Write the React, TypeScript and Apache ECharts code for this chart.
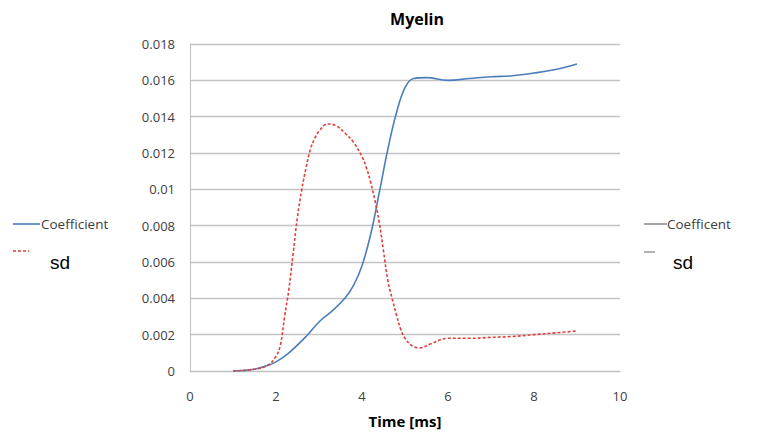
import React, { useEffect, useRef } from "react";
import * as echarts from "echarts";

const coefX = [1.0, 1.5, 1.8, 2.0, 2.3, 2.7, 3.0, 3.3, 3.6, 3.8, 4.0, 4.2, 4.4, 4.6, 4.8, 5.0, 5.2, 5.5, 6.0, 6.5, 7.0, 7.5, 8.0, 8.5, 9.0];
const coefY = [0.0, 0.0001, 0.0003, 0.0005, 0.001, 0.0019, 0.0027, 0.0033, 0.004, 0.0047, 0.0058, 0.0075, 0.0098, 0.0122, 0.0142, 0.0156, 0.0161, 0.01615, 0.016, 0.0161, 0.0162, 0.01625, 0.0164, 0.0166, 0.0169];

const sdX = [1.0, 1.5, 1.8, 2.0, 2.1, 2.2, 2.3, 2.4, 2.5, 2.6, 2.7, 2.8, 2.9, 3.0, 3.2, 3.4, 3.6, 3.8, 4.0, 4.1, 4.2, 4.3, 4.4, 4.5, 4.6, 4.7, 4.8, 4.9, 5.0, 5.2, 5.35, 5.6, 6.0, 6.5, 7.0, 7.5, 8.0, 8.5, 9.0];
const sdY = [0.0, 0.0001, 0.0003, 0.0008, 0.0014, 0.003, 0.0045, 0.0065, 0.0085, 0.01, 0.0112, 0.0122, 0.0128, 0.0132, 0.0136, 0.0135, 0.0131, 0.0126, 0.0118, 0.0112, 0.0104, 0.0094, 0.0082, 0.0066, 0.005, 0.004, 0.0031, 0.0023, 0.0018, 0.00134, 0.00128, 0.0015, 0.0018, 0.0018, 0.00185, 0.0019, 0.002, 0.0021, 0.0022];

const titleText = "Myelin";
const xName = "Time [ms]";
const legendNames = ["Coefficient", "sd"];
const legendNamesRight = ["Coefficent", "sd"];

const BLUE = "#4a7ebb";
const RED = "#e0403a";
const FONT = "'Open Sans', 'Liberation Sans', sans-serif";

export default function App() {
  const ref = useRef<HTMLDivElement>(null);
  useEffect(() => {
    if (!ref.current) return;
    const chart = echarts.init(ref.current, null, { renderer: "svg" });
    const coefData = coefX.map((x, i) => [x, coefY[i]]);
    const sdData = sdX.map((x, i) => [x, sdY[i]]);
    chart.setOption({
      animation: false,
      backgroundColor: "#ffffff",
      title: {
        text: titleText,
        left: 412,
        textAlign: "center",
        top: 6,
        textStyle: { fontFamily: FONT, fontSize: 16, fontWeight: "bold", color: "#000" },
      },
      grid: { left: 190, right: 137, top: 44, bottom: 71 },
      xAxis: {
        type: "value",
        min: 0,
        max: 10,
        interval: 2,
        name: xName,
        nameLocation: "middle",
        nameGap: 42,
        nameTextStyle: { fontFamily: FONT, fontSize: 15, fontWeight: "bold", color: "#000" },
        axisLine: { show: true, lineStyle: { color: "#bfbfbf", width: 1 } },
        axisTick: { show: false },
        splitLine: { show: false },
        axisLabel: { fontFamily: FONT, fontSize: 13, color: "#404040", margin: 18 },
      },
      yAxis: {
        type: "value",
        min: 0,
        max: 0.018,
        interval: 0.002,
        axisLine: { show: true, lineStyle: { color: "#bfbfbf", width: 1 } },
        axisTick: { show: false },
        splitLine: { show: true, lineStyle: { color: "#c4c4c4", width: 1.3 } },
        axisLabel: { fontFamily: FONT, fontSize: 13, color: "#404040", margin: 15 },
      },
      series: [
        {
          name: legendNames[0],
          type: "line",
          data: coefData,
          smooth: 0.4,
          showSymbol: false,
          lineStyle: { color: BLUE, width: 1.6 },
          z: 3,
        },
        {
          name: legendNames[1],
          type: "line",
          data: sdData,
          smooth: 0.4,
          showSymbol: false,
          lineStyle: { color: RED, width: 1.6, type: [3, 2] },
          z: 4,
        },
      ],
      graphic: [
        { type: "line", shape: { x1: 13, y1: 224, x2: 40, y2: 224 }, style: { stroke: BLUE, lineWidth: 1.6 } },
        { type: "text", x: 41, y: 224, style: { text: legendNames[0], fontFamily: FONT, fontSize: 13.5, fill: "#404040", verticalAlign: "middle" } },
        { type: "line", shape: { x1: 13, y1: 251, x2: 29, y2: 251 }, style: { stroke: RED, lineWidth: 1.5, lineDash: [3, 2] } },
        { type: "text", x: 50, y: 262, style: { text: legendNames[1], fontFamily: "'Liberation Sans', sans-serif", fontSize: 19, fill: "#000", verticalAlign: "middle" } },
        { type: "line", shape: { x1: 644, y1: 224, x2: 667, y2: 224 }, style: { stroke: "#808080", lineWidth: 1.4 } },
        { type: "text", x: 667, y: 224, style: { text: legendNamesRight[0], fontFamily: FONT, fontSize: 13.5, fill: "#404040", verticalAlign: "middle" } },
        { type: "line", shape: { x1: 644, y1: 252, x2: 655, y2: 252 }, style: { stroke: "#909090", lineWidth: 1.4 } },
        { type: "text", x: 673, y: 262, style: { text: legendNamesRight[1], fontFamily: "'Liberation Sans', sans-serif", fontSize: 19, fill: "#000", verticalAlign: "middle" } },
      ],
    });
    return () => chart.dispose();
  }, []);
  return <div ref={ref} style={{ width: 757, height: 442, position: "fixed", left: 0, top: 0 }} />;
}
